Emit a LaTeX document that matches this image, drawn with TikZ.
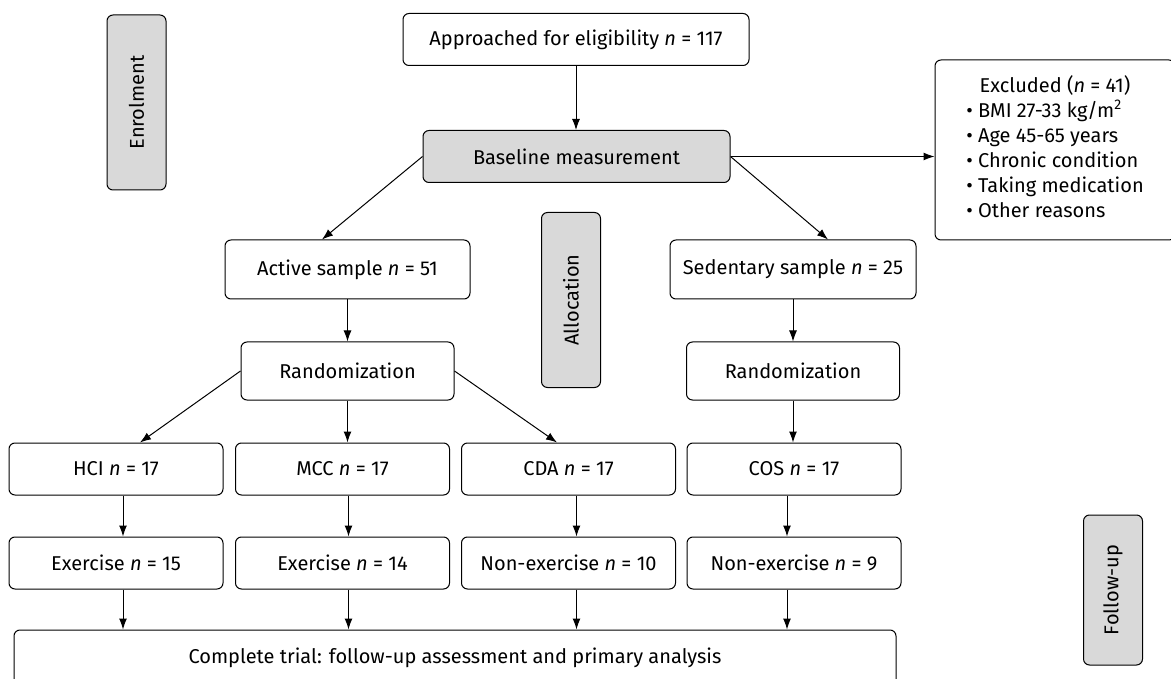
\documentclass[tikz,border=0pt]{standalone}
\usepackage{fontspec}
\setmainfont{Fira Sans}
\usetikzlibrary{arrows.meta,positioning}
\definecolor{stagegray}{HTML}{D9D9D9}

\begin{document}
\begin{tikzpicture}[x=1pt,y=-1pt,>={Latex[length=11pt,width=8pt]},
 flowbox/.style={draw,rounded corners=6pt,line width=1pt,minimum height=52pt,inner sep=0pt,
   align=center,font=\fontsize{20}{25}\selectfont},
 stage/.style={draw,fill=stagegray,rounded corners=6pt,line width=1pt,rotate=90,
   minimum width=175pt,minimum height=59pt,inner sep=0pt,font=\fontsize{20}{25}\selectfont},
 arr/.style={->,line width=1pt}]
 \useasboundingbox (0,0) rectangle (1171,679);
 % phase labels
 \node[stage] (enrol) at (136.5,102.5) {Enrolment};
 \node[stage] (alloc) at (571,300) {Allocation};
 \node[stage,minimum width=150pt] (follow) at (1113,590) {Follow-up};
 % enrolment
 \node[flowbox,minimum width=240pt,minimum height=180pt] (excl) at (1055,150)
   {Excluded (\textit{n} = 41)\\
    \begin{tabular}[t]{@{}l@{}}
    • BMI 27-33 kg/m\textsuperscript{2}\\
    • Age 45-65 years\\
    • Chronic condition\\
    • Taking medication\\
    • Other reasons
    \end{tabular}};
 \node[flowbox,minimum width=346pt] (appr) at (576,39.5) {Approached for eligibility \textit{n} = 117};
 \node[flowbox,fill=stagegray,minimum width=307pt] (base) at (576.5,156.5) {Baseline measurement};
 % allocation
 \node[flowbox,minimum width=245pt,minimum height=59pt] (active) at (347.5,269.5) {Active sample \textit{n} = 51};
 \node[flowbox,minimum width=246pt,minimum height=59pt] (sed) at (793,269.5) {Sedentary sample \textit{n} = 25};
 \node[flowbox,minimum width=213pt,minimum height=58pt] (randL) at (347.5,371) {Randomization};
 \node[flowbox,minimum width=213pt,minimum height=58pt] (randR) at (793,371) {Randomization};
 \node[flowbox,minimum width=214pt] (hci) at (116,469) {HCI \textit{n} = 17};
 \node[flowbox,minimum width=214pt] (mcc) at (342.5,469) {MCC \textit{n} = 17};
 \node[flowbox,minimum width=214pt] (cda) at (568.5,469) {CDA \textit{n} = 17};
 \node[flowbox,minimum width=214pt] (cos) at (794,469) {COS \textit{n} = 17};
 % follow-up
 \node[flowbox,minimum width=214pt] (exa) at (116,563) {Exercise \textit{n} = 15};
 \node[flowbox,minimum width=214pt] (exb) at (342.5,563) {Exercise \textit{n} = 14};
 \node[flowbox,minimum width=214pt] (nexa) at (568.5,563) {Non-exercise \textit{n} = 10};
 \node[flowbox,minimum width=214pt] (nexb) at (794,563) {Non-exercise \textit{n} = 9};
 \node[flowbox,minimum width=882pt,minimum height=56pt] (done) at (455,658) {Complete trial: follow-up assessment and primary analysis};
 % connectors
 \draw[arr] (appr.south) -- (appr.south |- base.north);
 \draw[arr] (base.east) -- (base.east -| excl.west);
 \draw[arr] (base.west) -- ([xshift=-25.5]active.north);
 \draw[arr] (base.east) -- ([xshift=35]sed.north);
 \draw[arr] (active) -- (randL);
 \draw[arr] (sed) -- (randR);
 \draw[arr] (randL.west) -- ([xshift=24]hci.north);
 \draw[arr] (randL.east) -- ([xshift=-11.5]cda.north);
 \draw[arr] (randL.south) -- (randL.south |- mcc.north);
 \draw[arr] (randR.south) -- (randR.south |- cos.north);
 \foreach \a/\b/\s in {hci/exa/7,mcc/exb/6,cda/nexa/8,cos/nexb/-7}
  {\draw[arr] ([xshift=\s]\a.south) -- ([xshift=\s]\b.north);
   \draw[arr] ([xshift=\s]\b.south) -- ([xshift=\s]\b.south |- done.north);}
\end{tikzpicture}
\end{document}
